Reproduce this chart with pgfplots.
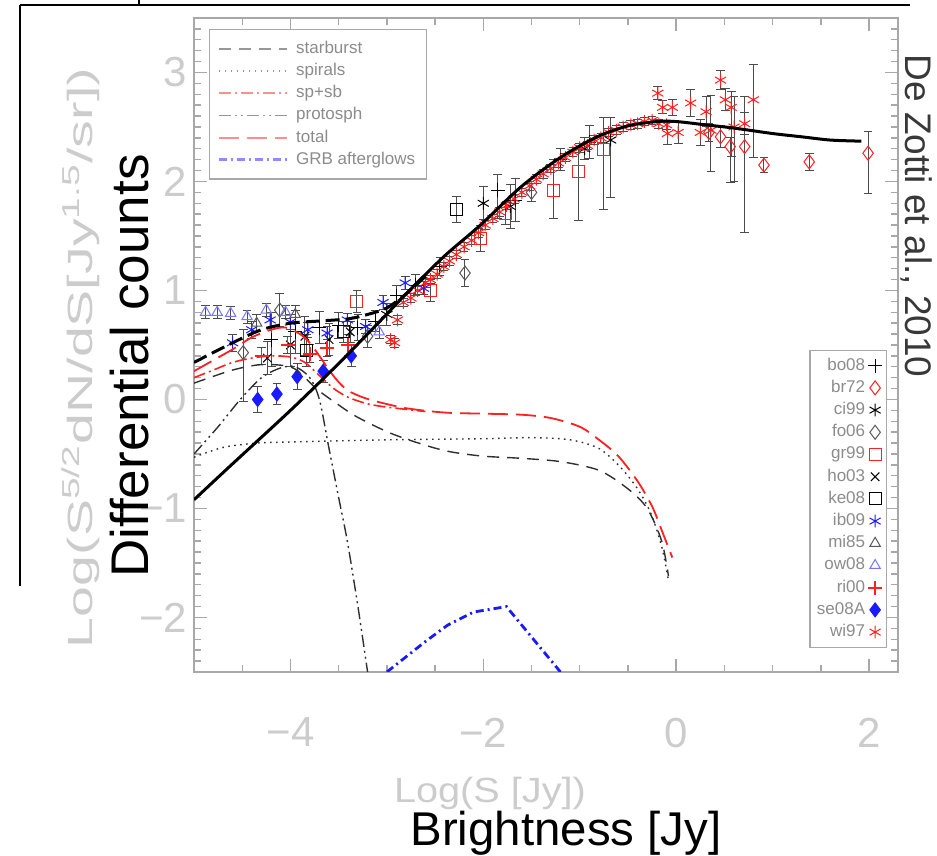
\documentclass[border=0pt]{standalone}
\usepackage{pgfplots}
\pgfplotsset{compat=1.18}
\usepackage{graphicx}
\usepackage{fontspec}
\setmainfont{Liberation Sans}

\definecolor{axgray}{HTML}{A8A8A8}
\definecolor{labgray}{HTML}{CCCCCC}
\definecolor{leggray}{HTML}{8C8C8C}
\definecolor{cred}{HTML}{FF2020}
\definecolor{cblue}{HTML}{1A1AFF}
\definecolor{dgray}{HTML}{303030}

\pgfplotsset{
  frame/.style={
    width=352pt, height=327pt, scale only axis,
    at={(97pt,92pt)}, anchor=south west,
    xmin=-5, xmax=2.3, ymin=-2.5, ymax=3.5,
  },
  pts/.style={only marks, forget plot, line width=0.5pt, mark size=3pt,
    error bars/y dir=both, error bars/y explicit,
    error bars/error bar style={black!70, line width=0.5pt, solid},
    error bars/error mark options={rotate=90, black!70, mark size=2.2pt, line width=0.5pt, solid}},
  li/.style={only marks, line width=0.5pt, mark size=3pt},
  legbox/.style={draw=axgray, line width=0.6pt, fill=white,
    font=\fontsize{8.5}{9}\selectfont, text=leggray, row sep=0pt,
    nodes={inner sep=1.5pt, text height=6.3pt, text depth=1.8pt}},
}

\begin{document}
\begin{tikzpicture}
\useasboundingbox (0,0) rectangle (468.5pt,428pt);

% data points, frame and the marker legend
\begin{axis}[frame,
  axis line style={axgray, line width=0.9pt},
  tick style={axgray, line width=0.7pt},
  tick align=inside, major tick length=6.5pt, minor tick length=3.5pt,
  xtick={-4,-2,0,2}, xticklabels={−4,−2,0,2},
  minor xtick={-4.5,-3.5,-3,-2.5,-1.5,-1,-0.5,0.5,1,1.5},
  ytick={-2,-1,0,1,2,3}, yticklabels={−2,−1,0,1,2,3},
  minor ytick={-2.4,-2.3,...,3.45},
  ticklabel style={text=labgray, font=\fontsize{21}{24}\selectfont},
  xticklabel style={yshift=-19.5pt},
  legend plot pos=right, legend cell align=right,
  legend style={legbox, at={(0.984,0.037)}, anchor=south east, inner sep=2pt},
]
\addlegendimage{li, mark=+, black, mark size=3.5pt}\addlegendentry{bo08}
\addlegendimage{li, mark=diamond, cred, mark size=3.5pt}\addlegendentry{br72}
\addlegendimage{li, mark=asterisk, black, mark size=3.2pt}\addlegendentry{ci99}
\addlegendimage{li, mark=diamond, black!65, mark size=3.5pt}\addlegendentry{fo06}
\addlegendimage{li, mark=square, cred}\addlegendentry{gr99}
\addlegendimage{li, mark=x, black}\addlegendentry{ho03}
\addlegendimage{li, mark=square, black}\addlegendentry{ke08}
\addlegendimage{li, mark=asterisk, cblue, mark size=3.2pt}\addlegendentry{ib09}
\addlegendimage{li, mark=triangle, black!65}\addlegendentry{mi85}
\addlegendimage{li, mark=triangle, cblue!60}\addlegendentry{ow08}
\addlegendimage{li, mark=+, cred, mark size=3.5pt, line width=0.9pt}\addlegendentry{ri00}
\addlegendimage{li, mark=diamond*, cblue, mark size=3.5pt}\addlegendentry{se08A}
\addlegendimage{li, mark=asterisk, cred, mark size=3.2pt}\addlegendentry{wi97}

% bo08
\addplot[pts, mark=+, black, mark size=3.5pt] coordinates {
 (-4.2,0.55) +- (0,0.25) (-3.95,0.62) +- (0,0.2) (-3.7,0.66) +- (0,0.15)
 (-3.5,0.68) +- (0,0.12) (-3.3,0.66) +- (0,0.12) (-3.12,0.72) +- (0,0.1)
 (-2.9,0.95) +- (0,0.1) (-2.7,1.05) +- (0,0.1) (-2.45,1.22) +- (0,0.08)
 (-1.85,1.92) += (0,0.14) -= (0,0.26) (-1.67,1.83) +- (0,0.2)
 (-1.2,2.2) +- (0,0.1) (-0.9,2.36) +- (0,0.15)
};
% br72
\addplot[pts, mark=diamond, cred, mark size=3.5pt] coordinates {
 (0.34,2.45) +- (0,0.08) (0.46,2.41) +- (0,0.1)
 (0.56,2.32) += (0,0.08) -= (0,0.33) (0.71,2.32) += (0,0.46) -= (0,0.79)
 (0.91,2.15) +- (0,0.07) (1.38,2.18) +- (0,0.08)
 (1.99,2.26) += (0,0.2) -= (0,0.37)
};
% ci99
\addplot[pts, mark=asterisk, black, mark size=3.2pt] coordinates {
 (-3.0,0.78) +- (0,0.1) (-2.0,1.8) +- (0,0.15) (-1.72,1.77) +- (0,0.2)
 (-0.95,2.3) +- (0,0.1) (-0.68,2.38) += (0,0.21) -= (0,0.53)
};
% fo06
\addplot[pts, mark=diamond, black!65, mark size=3.5pt] coordinates {
 (-4.49,0.43) += (0,0.21) -= (0,0.45) (-4.11,0.82) +- (0,0.15)
 (-3.2,0.58) +- (0,0.1) (-2.19,1.16) +- (0,0.12) (-1.5,1.9) +- (0,0.08)
};
% gr99
\addplot[pts, mark=square, cred] coordinates {
 (-3.31,0.9) +- (0,0.1) (-2.55,1.0) +- (0,0.1) (-2.03,1.48) +- (0,0.12)
 (-1.77,1.71) +- (0,0.1) (-1.27,1.92) += (0,0.28) -= (0,0.26)
 (-1.01,2.09) += (0,0.2) -= (0,0.45) (-0.75,2.29) += (0,0.3) -= (0,0.55)
};
% ho03
\addplot[pts, mark=x, black] coordinates {
 (-4.24,0.38) +- (0,0.15) (-4.0,0.5) +- (0,0.2) (-3.85,0.58) +- (0,0.18)
 (-3.6,0.55) +- (0,0.15) (-3.38,0.62) +- (0,0.1)
};
% ke08
\addplot[pts, mark=square, black] coordinates {
 (-3.83,0.45) +- (0,0.15) (-3.45,0.62) +- (0,0.1) (-2.28,1.74) +- (0,0.12)
};
% ib09
\addplot[pts, mark=asterisk, cblue, mark size=3.2pt] coordinates {
 (-4.6,0.52) +- (0,0.08) (-4.4,0.64) +- (0,0.08) (-4.21,0.73) +- (0,0.07)
 (-4.0,0.71) +- (0,0.07) (-3.82,0.64) +- (0,0.07) (-3.62,0.61) +- (0,0.06)
 (-3.41,0.73) +- (0,0.06) (-3.22,0.67) +- (0,0.06) (-3.04,0.89) +- (0,0.06)
 (-2.81,1.07) +- (0,0.06) (-2.62,1.02) +- (0,0.06)
};
% mi85
\addplot[pts, mark=triangle, black!65] coordinates {
 (-4.35,0.7) +- (0,0.08) (-3.95,0.78) +- (0,0.08)
};
% ow08
\addplot[pts, mark=triangle, cblue!60] coordinates {
 (-4.88,0.8) +- (0,0.06) (-4.76,0.8) +- (0,0.06) (-4.62,0.79) +- (0,0.06)
 (-4.45,0.76) +- (0,0.06) (-4.25,0.82) +- (0,0.06) (-4.05,0.8) +- (0,0.06)
 (-3.08,0.62) +- (0,0.06)
};
% ri00
\addplot[pts, mark=+, cred, mark size=3.5pt, line width=0.9pt] coordinates {
 (-4.3,0.4) +- (0,0.08) (-4.03,0.5) +- (0,0.08) (-3.8,0.42) +- (0,0.08)
 (-3.62,0.47) +- (0,0.08) (-3.4,0.5) +- (0,0.1)
};
% se08A
\addplot[pts, mark=diamond*, cblue, mark size=3.5pt] coordinates {
 (-4.34,0.0) +- (0,0.12) (-4.14,0.05) +- (0,0.1) (-3.93,0.21) +- (0,0.12)
 (-3.66,0.26) +- (0,0.1) (-3.37,0.4) +- (0,0.1)
};
% wi97
\addplot[pts, mark=asterisk, cred, mark size=3.2pt] coordinates {
 (-2.96,0.55) +- (0,0.04) (-2.92,0.52) +- (0,0.04) (-2.89,0.73) +- (0,0.04)
 (-2.83,0.89) +- (0,0.04) (-2.75,0.93) +- (0,0.04) (-2.68,1.0) +- (0,0.04)
 (-2.6,1.07) +- (0,0.04) (-2.55,1.1) +- (0,0.04) (-2.48,1.15) +- (0,0.04)
 (-2.41,1.22) +- (0,0.04) (-2.35,1.27) +- (0,0.04) (-2.28,1.33) +- (0,0.04)
 (-2.2,1.4) +- (0,0.04) (-2.12,1.46) +- (0,0.04) (-2.05,1.53) +- (0,0.04)
 (-1.98,1.6) +- (0,0.04) (-1.9,1.66) +- (0,0.04) (-1.83,1.72) +- (0,0.04)
 (-1.76,1.78) +- (0,0.04) (-1.68,1.84) +- (0,0.04) (-1.6,1.9) +- (0,0.04)
 (-1.52,1.96) +- (0,0.04) (-1.45,2.02) +- (0,0.04) (-1.38,2.07) +- (0,0.04)
 (-1.3,2.12) +- (0,0.04) (-1.22,2.17) +- (0,0.04) (-1.15,2.22) +- (0,0.04)
 (-1.07,2.27) +- (0,0.04) (-1.0,2.31) +- (0,0.04) (-0.92,2.33) +- (0,0.04)
 (-0.85,2.38) +- (0,0.04) (-0.78,2.4) +- (0,0.04) (-0.7,2.45) +- (0,0.04)
 (-0.62,2.47) +- (0,0.04) (-0.55,2.5) +- (0,0.04) (-0.47,2.52) +- (0,0.04)
 (-0.4,2.53) +- (0,0.04) (-0.33,2.55) +- (0,0.04) (-0.25,2.56) +- (0,0.04)
 (-0.18,2.53) +- (0,0.04) (-0.1,2.52) +- (0,0.04)
 (-0.19,2.81) +- (0,0.06) (-0.14,2.68) +- (0,0.06) (-0.04,2.68) +- (0,0.07)
 (-0.09,2.44) +- (0,0.1) (0.02,2.45) +- (0,0.1) (0.15,2.72) +- (0,0.12)
 (0.25,2.45) +- (0,0.12) (0.31,2.64) +- (0,0.14) (0.36,2.47) += (0,0.32) -= (0,0.38)
 (0.46,2.93) +- (0,0.09) (0.51,2.75) +- (0,0.1) (0.57,2.68) += (0,0.15) -= (0,0.45)
 (0.6,2.5) += (0,0.28) -= (0,0.5) (0.71,2.53) +- (0,0.1) (0.8,2.75) += (0,0.32) -= (0,0.53)
};
\end{axis}

% model curves and the line legend
\begin{axis}[frame, hide axis,
  legend cell align=left,
  legend style={legbox, at={(0.021,0.983)}, anchor=north west, inner sep=4pt, column sep=2.5pt},
  legend image code/.code={\draw[#1, opacity=0.5] (0pt,0pt) -- (34pt,0pt);},
]
\addplot[dgray, line width=0.7pt, dash pattern=on 6pt off 4pt, smooth] coordinates {
 (-5,0.15) (-4.6,0.27) (-4.3,0.32) (-4.0,0.3) (-3.85,0.2) (-3.72,0.09) (-3.5,-0.05)
 (-3.31,-0.16) (-2.96,-0.31) (-2.6,-0.42) (-2.34,-0.48) (-2.0,-0.52) (-1.6,-0.54)
 (-1.2,-0.57) (-0.8,-0.65) (-0.5,-0.82) (-0.3,-1.0) (-0.15,-1.3) (-0.08,-1.62)
};
\addlegendentry{starburst}
\addplot[dgray, line width=0.7pt, dash pattern=on 0.8pt off 2.2pt, smooth] coordinates {
 (-5,-0.53) (-4.7,-0.44) (-4.35,-0.4) (-4.0,-0.39) (-3.0,-0.37) (-2.0,-0.36)
 (-1.5,-0.35) (-1.1,-0.37) (-0.8,-0.45) (-0.58,-0.62) (-0.4,-0.82) (-0.26,-1.05)
 (-0.15,-1.35) (-0.08,-1.66)
};
\addlegendentry{spirals}
\addplot[cred, line width=0.8pt, dash pattern=on 6pt off 2pt on 1pt off 2pt, smooth] coordinates {
 (-5,0.2) (-4.8,0.27) (-4.6,0.34) (-4.4,0.38) (-4.2,0.4) (-4.0,0.39) (-3.85,0.34)
 (-3.7,0.22) (-3.55,0.1) (-3.4,0.02) (-3.2,-0.04) (-3.0,-0.07) (-2.6,-0.11)
};
\addlegendentry{sp+sb}
\addplot[dgray, line width=0.7pt, dash pattern=on 6pt off 2pt on 1pt off 2pt on 1pt off 2pt, smooth] coordinates {
 (-5,-0.5) (-4.75,-0.25) (-4.52,0.0) (-4.3,0.2) (-4.1,0.29) (-3.95,0.3) (-3.8,0.2)
 (-3.7,0.0) (-3.6,-0.45) (-3.5,-0.9) (-3.41,-1.3) (-3.3,-1.9) (-3.2,-2.5)
};
\addlegendentry{protosph}
\addplot[cred, line width=0.9pt, dash pattern=on 10pt off 4pt, smooth] coordinates {
 (-5,0.26) (-4.8,0.36) (-4.6,0.46) (-4.4,0.57) (-4.2,0.64) (-4.05,0.66) (-3.9,0.6)
 (-3.8,0.52) (-3.7,0.4) (-3.6,0.27) (-3.5,0.16) (-3.4,0.08) (-3.25,0.02) (-3.1,-0.02)
 (-2.8,-0.08) (-2.4,-0.12) (-2.0,-0.13) (-1.6,-0.14) (-1.3,-0.17) (-1.0,-0.25)
 (-0.8,-0.37) (-0.6,-0.52) (-0.4,-0.75) (-0.25,-0.98) (-0.15,-1.2) (-0.04,-1.45)
};
\addlegendentry{total}
\addplot[cblue, line width=1.4pt, dash pattern=on 4pt off 2pt on 1pt off 2pt] coordinates {
 (-3.0,-2.5) (-2.6,-2.22) (-2.37,-2.07) (-2.1,-1.95) (-1.76,-1.9) (-1.2,-2.5)
};
\addlegendentry{GRB afterglows}
\addplot[black, line width=1.5pt, dash pattern=on 7pt off 3pt, smooth, forget plot] coordinates {
 (-5,0.34) (-4.6,0.52) (-4.3,0.64) (-4.0,0.7) (-3.7,0.72) (-3.4,0.74) (-3.2,0.78)
 (-3.0,0.84) (-2.8,0.97) (-2.6,1.13)
};
\addplot[black, line width=1.5pt, smooth, forget plot] coordinates {
 (-5,-0.92) (-4.6,-0.59) (-4.0,-0.1) (-3.5,0.33) (-3.07,0.72) (-2.8,0.97)
 (-2.41,1.31) (-2.03,1.6) (-1.61,1.95) (-1.2,2.22) (-0.82,2.41) (-0.5,2.51)
 (-0.2,2.55) (0.0,2.55) (0.3,2.52) (0.6,2.49) (1.0,2.44) (1.3,2.41) (1.6,2.38) (1.92,2.37)
};
\end{axis}

% gray axis titles of the scanned plot
\node[rotate=90, anchor=base, text=labgray, font=\fontsize{17.5}{20}\selectfont] at (46pt,249pt)
 {\resizebox{290pt}{\height}{Log(S\textsuperscript{5/2}dN/dS[Jy\textsuperscript{1.5}/sr])}};
\node[anchor=base, text=labgray, font=\fontsize{17.5}{20}\selectfont] at (245pt,26.5pt)
 {\resizebox{96pt}{\height}{Log(S [Jy])}};

% overlay drawn on top of the scan
\draw[black, line width=1pt] (10pt,425.5pt) -- (455pt,425.5pt);
\draw[black, line width=1pt] (69.5pt,425.5pt) -- (69.5pt,428pt);
\draw[black, line width=1pt] (10pt,425.5pt) -- (10pt,135pt);
\node[rotate=90, anchor=base, font=\fontsize{26.5}{31}\selectfont] at (74pt,245pt) {Differential counts};
\node[anchor=base, font=\fontsize{23.7}{28}\selectfont] at (283pt,5pt) {Brightness [Jy]};
\node[rotate=-90, anchor=base, text=black!78, font=\fontsize{18.5}{22}\selectfont] at (452.5pt,320pt) {De Zotti et al., 2010};
\end{tikzpicture}
\end{document}
